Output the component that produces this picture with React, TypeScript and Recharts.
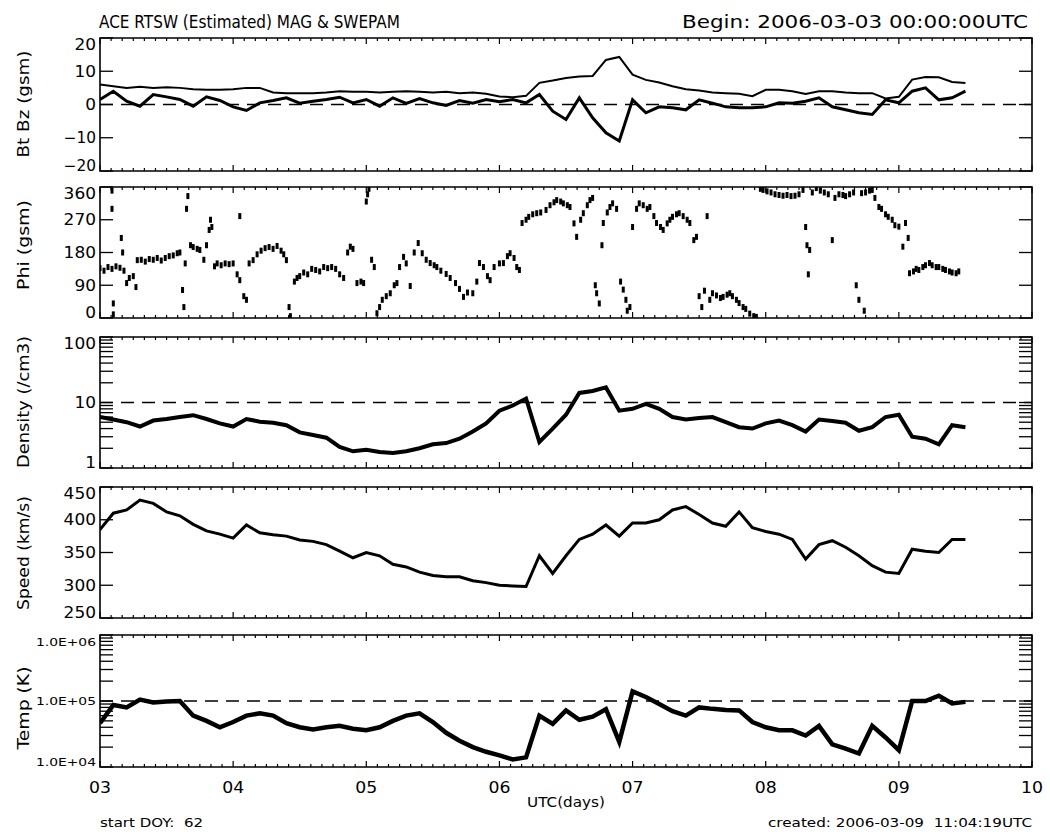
import React from "react";
import {
  ComposedChart,
  Line,
  Scatter,
  XAxis,
  YAxis,
  ReferenceLine,
  ReferenceArea,
} from "recharts";

const W = 1050;
const PLOT_LEFT = 100;
const PLOT_RIGHT = 1032;
const FONT = "'DejaVu Sans', 'Liberation Sans', sans-serif";

// sample times, days of March 2006 (UTC)
const days = [
  3.0, 3.1, 3.2, 3.3, 3.4, 3.5, 3.6, 3.7, 3.8, 3.9,
  4.0, 4.1, 4.2, 4.3, 4.4, 4.5, 4.6, 4.7, 4.8, 4.9,
  5.0, 5.1, 5.2, 5.3, 5.4, 5.5, 5.6, 5.7, 5.8, 5.9,
  6.0, 6.1, 6.2, 6.3, 6.4, 6.5, 6.6, 6.7, 6.8, 6.9,
  7.0, 7.1, 7.2, 7.3, 7.4, 7.5, 7.6, 7.7, 7.8, 7.9,
  8.0, 8.1, 8.2, 8.3, 8.4, 8.5, 8.6, 8.7, 8.8, 8.9,
  9.0, 9.1, 9.2, 9.3, 9.4, 9.5,
];

// nT
const bt = [
  6, 5.5, 5, 5.3, 5, 5.2, 5, 4.6, 4.4, 4.4,
  4.6, 5, 5, 3.6, 3.4, 3.4, 3.4, 3.6, 4, 3.8,
  3.8, 3.6, 3.8, 4, 3.8, 3.6, 3.8, 3.4, 3.6, 3.2,
  2.4, 2.2, 2.6, 6.5, 7.2, 8, 8.4, 8.6, 13.4, 14.3,
  9, 7.4, 6.6, 5.5, 4.6, 4.2, 3.6, 3.4, 3.2, 2.5,
  4.4, 4.4, 4, 3.2, 4, 4, 3.6, 3.4, 3.4, 1.8,
  2.3, 7.5, 8.3, 8.2, 6.8, 6.5,
];
const bz = [
  1.5, 4, 1, -0.5, 3, 2.3, 1.5, -0.5, 2.3, 1.2,
  -0.7, -1.8, 0.5, 1.2, 2, 0.4, 1, 1.5, 2.2, 0.5,
  1.5, -0.5, 2, 0.3, 1.8, 0.5, -0.3, 1.2, 0.4, 1.5,
  0.8, 1.5, 0.5, 3, -2, -4.5, 2, -4, -8.5, -11,
  1.4, -2.5, -0.7, -1, -1.6, 1.4, 0.4, -0.7, -1, -1,
  -0.7, 0.5, 0.4, 1, 2, -0.7, -1.6, -2.5, -3, 1.4,
  0.5, 4, 5, 1.4, 2, 4,
];
// /cm3
const density = [
  6.0, 5.5, 5.0, 4.3, 5.3, 5.6, 6.0, 6.4, 5.6, 4.8,
  4.3, 5.6, 5.1, 4.9, 4.5, 3.5, 3.2, 2.9, 2.1, 1.8,
  1.9, 1.75, 1.7, 1.8, 2.0, 2.3, 2.4, 2.8, 3.6, 4.8,
  7.5, 9.0, 11.5, 2.5, 4.0, 6.5, 14, 15, 17, 7.5,
  8.0, 9.5, 8.0, 6.0, 5.5, 5.8, 6.0, 5.0, 4.2, 4.0,
  4.8, 5.3, 4.5, 3.6, 5.5, 5.2, 4.9, 3.7, 4.2, 6.0,
  6.5, 3.0, 2.8, 2.3, 4.5, 4.2,
];
// km/s
const speed = [
  385, 410, 415, 430, 425, 412, 406, 393, 383, 378,
  372, 392, 380, 377, 375, 369, 367, 362, 352, 342,
  350, 345, 332, 328, 320, 315, 313, 313, 307, 304,
  300, 299, 298, 345, 318, 345, 370, 378, 392, 375,
  395, 395, 400, 415, 420, 408, 395, 390, 412, 388,
  382, 378, 370, 340, 362, 368, 358, 345, 330, 320,
  318, 355, 352, 350, 370, 370,
];
// K
const temp = [
  46000, 87000, 80000, 105000, 95000, 98000, 100000, 60000, 50000, 40000,
  48000, 60000, 65000, 60000, 46000, 40000, 37000, 40000, 42000, 38000,
  36000, 40000, 50000, 60000, 65000, 48000, 33000, 25000, 20000, 17000,
  15000, 13000, 14000, 60000, 45000, 72000, 52000, 58000, 75000, 24000,
  140000, 115000, 90000, 70000, 60000, 80000, 76000, 73000, 72000, 48000,
  40000, 36000, 36000, 30000, 42000, 22000, 19000, 16000, 42000, 28000,
  18000, 100000, 100000, 120000, 92000, 97000,
];

// [day, phi degrees]
const phiPoints: [number, number][] = [
  [3.0, 137], [3.03, 130], [3.06, 140], [3.09, 135], [3.09, 350], [3.09, 300], [3.1, 40], [3.1, 10],
  [3.12, 142], [3.15, 138], [3.16, 220], [3.17, 180], [3.18, 130], [3.2, 96], [3.22, 110], [3.25, 115],
  [3.27, 85], [3.28, 159], [3.31, 160], [3.34, 155], [3.37, 162], [3.4, 160], [3.43, 165], [3.46, 158],
  [3.49, 165], [3.52, 170], [3.55, 172], [3.58, 178], [3.6, 180], [3.62, 77], [3.63, 30], [3.64, 150],
  [3.65, 300], [3.66, 335], [3.68, 200], [3.7, 195], [3.73, 190], [3.75, 187], [3.78, 160], [3.8, 200],
  [3.82, 242], [3.83, 270], [3.84, 250], [3.86, 142], [3.88, 150], [3.91, 145], [3.94, 150], [3.97, 148],
  [4.0, 150], [4.03, 120], [4.05, 104], [4.05, 280], [4.08, 60], [4.1, 50], [4.12, 150], [4.15, 159],
  [4.18, 175], [4.21, 185], [4.24, 192], [4.27, 195], [4.3, 190], [4.33, 198], [4.36, 185], [4.38, 175],
  [4.4, 159], [4.42, 30], [4.43, 5], [4.46, 100], [4.48, 110], [4.5, 115], [4.53, 125], [4.56, 120],
  [4.59, 135], [4.62, 132], [4.65, 128], [4.68, 140], [4.71, 137], [4.74, 140], [4.77, 135], [4.8, 120],
  [4.83, 110], [4.86, 180], [4.88, 196], [4.9, 190], [4.93, 96], [4.96, 100], [4.98, 96], [5.0, 320],
  [5.01, 340], [5.02, 355], [5.04, 160], [5.06, 140], [5.08, 13], [5.1, 30], [5.12, 50], [5.15, 60],
  [5.18, 68], [5.21, 90], [5.23, 96], [5.25, 140], [5.28, 168], [5.3, 150], [5.33, 88], [5.36, 180],
  [5.39, 206], [5.42, 178], [5.45, 160], [5.48, 151], [5.51, 145], [5.53, 140], [5.56, 130], [5.6, 121],
  [5.63, 110], [5.67, 96], [5.7, 80], [5.73, 58], [5.76, 70], [5.8, 68], [5.83, 100], [5.85, 151],
  [5.88, 140], [5.91, 115], [5.93, 104], [5.96, 140], [6.0, 150], [6.03, 151], [6.06, 170], [6.08, 178],
  [6.11, 165], [6.13, 140], [6.15, 132], [6.17, 261], [6.2, 270], [6.22, 278], [6.25, 285], [6.28, 288],
  [6.31, 290], [6.35, 297], [6.38, 310], [6.41, 318], [6.43, 324], [6.46, 320], [6.48, 315], [6.51, 310],
  [6.53, 305], [6.56, 260], [6.58, 223], [6.61, 270], [6.63, 288], [6.66, 310], [6.68, 324], [6.7, 330],
  [6.72, 90], [6.73, 68], [6.75, 40], [6.77, 200], [6.78, 261], [6.81, 290], [6.83, 305], [6.85, 315],
  [6.88, 300], [6.91, 100], [6.93, 78], [6.95, 50], [6.96, 20], [6.98, 30], [7.0, 250], [7.03, 300],
  [7.05, 315], [7.08, 310], [7.11, 300], [7.13, 305], [7.16, 280], [7.18, 261], [7.21, 250], [7.23, 242],
  [7.26, 260], [7.28, 270], [7.3, 278], [7.33, 285], [7.35, 288], [7.38, 280], [7.41, 270], [7.43, 261],
  [7.46, 214], [7.48, 223], [7.5, 60], [7.52, 30], [7.54, 75], [7.56, 280], [7.58, 50], [7.6, 68],
  [7.63, 62], [7.66, 55], [7.68, 58], [7.71, 64], [7.73, 68], [7.75, 60], [7.78, 50], [7.8, 41],
  [7.83, 30], [7.85, 25], [7.88, 12], [7.91, 5], [7.93, 3], [7.96, 355], [7.98, 352], [8.01, 348],
  [8.04, 345], [8.07, 340], [8.1, 338], [8.13, 336], [8.16, 338], [8.19, 335], [8.22, 336], [8.25, 340],
  [8.28, 352], [8.3, 250], [8.31, 200], [8.32, 120], [8.33, 187], [8.35, 345], [8.38, 357], [8.41, 350],
  [8.44, 345], [8.47, 340], [8.5, 214], [8.52, 330], [8.55, 340], [8.58, 338], [8.6, 335], [8.63, 340],
  [8.66, 345], [8.68, 90], [8.7, 50], [8.72, 343], [8.74, 20], [8.75, 345], [8.78, 350], [8.8, 352],
  [8.82, 330], [8.85, 305], [8.87, 300], [8.9, 285], [8.92, 278], [8.95, 270], [8.97, 255], [9.0, 251],
  [9.03, 196], [9.05, 261], [9.07, 220], [9.08, 123], [9.11, 128], [9.13, 135], [9.15, 132], [9.18, 140],
  [9.2, 145], [9.23, 151], [9.25, 145], [9.28, 140], [9.3, 140], [9.33, 135], [9.35, 132], [9.38, 128],
  [9.4, 125], [9.43, 123], [9.45, 128],
];

const dayTicks = [3, 4, 5, 6, 7, 8, 9, 10];
const dayLabels = ["03", "04", "05", "06", "07", "08", "09", "10"];
// tick marks every 2 hours along the time axis
const hourTicks = Array.from({ length: 85 }, (_, i) => 3 + i / 12);

const logTicks = (lo: number, hi: number) => {
  const out: number[] = [];
  for (let d = lo; d < hi; d *= 10) for (let m = 1; m < 10; m++) out.push(d * m);
  out.push(hi);
  return out;
};

const table = days.map((t, i) => ({
  t,
  bt: bt[i],
  bz: bz[i],
  density: density[i],
  speed: speed[i],
  temp: temp[i],
}));
const phiData = phiPoints.map(([t, phi]) => ({ t, phi }));

type PanelProps = {
  top: number;
  height: number;
  domain: [number, number];
  scale?: "linear" | "log";
  ticks: number[];
  labelTicks: number[];
  labels: string[];
  labelFont?: number;
  labelWidth?: (s: string) => number;
  dashed?: number;
  showDays?: boolean;
  children?: React.ReactNode;
};

function Panel({
  top,
  height,
  domain,
  scale = "linear",
  ticks,
  labelTicks,
  labels,
  labelFont = 15,
  labelWidth = (s) => s.length * 10.8,
  dashed,
  showDays = false,
  children,
}: PanelProps) {
  const mt = 4;
  const mb = showDays ? 40 : 4;
  const axisH = 1;
  const yTop = mt;
  const yBot = mt + height;

  const renderYTick = (p: any) => {
    const v = p.payload.value;
    const y = p.y;
    const k = labelTicks.findIndex((l) => Math.abs(l - v) <= 1e-6 * Math.abs(l));
    const lab = k >= 0 ? labels[k] : null;
    const ly = Math.min(Math.max(y, yTop + 7), yBot - 5);
    return (
      <g>
        <line x1={PLOT_LEFT} x2={PLOT_LEFT + 13} y1={y} y2={y} stroke="#000" strokeWidth={1.3} />
        <line x1={PLOT_RIGHT - 13} x2={PLOT_RIGHT} y1={y} y2={y} stroke="#000" strokeWidth={1.3} />
        {lab && (
          <text
            x={PLOT_LEFT - 4}
            y={ly + labelFont * 0.36}
            textAnchor="end"
            fontSize={labelFont}
            fontFamily={FONT}
            textLength={labelWidth(lab)}
            lengthAdjust="spacingAndGlyphs"
            fill="#000"
          >
            {lab}
          </text>
        )}
      </g>
    );
  };

  const renderXTick = (p: any) => {
    const v = p.payload.value;
    const x = p.x;
    const major = Math.abs(v - Math.round(v)) < 1e-6;
    const len = major ? 6 : 3;
    const k = dayTicks.indexOf(Math.round(v));
    return (
      <g>
        <line x1={x} x2={x} y1={yBot} y2={yBot - len} stroke="#000" strokeWidth={1.2} />
        <line x1={x} x2={x} y1={yTop} y2={yTop + len} stroke="#000" strokeWidth={1.2} />
        {showDays && major && k >= 0 && (
          <text
            x={x}
            y={yBot + 26}
            textAnchor="middle"
            fontSize={15}
            fontFamily={FONT}
            textLength={22}
            lengthAdjust="spacingAndGlyphs"
            fill="#000"
          >
            {dayLabels[k]}
          </text>
        )}
      </g>
    );
  };

  return (
    <div style={{ position: "absolute", left: 0, top: top - mt }}>
      <ComposedChart
        width={W}
        height={height + mt + mb}
        data={table}
        margin={{ top: mt, right: W - PLOT_RIGHT, bottom: mb - axisH, left: 0 }}
      >
        <XAxis
          dataKey="t"
          type="number"
          domain={[3, 10]}
          ticks={hourTicks}
          interval={0}
          tick={renderXTick}
          height={axisH}
          tickSize={0}
          axisLine={false}
          tickLine={false}
          allowDataOverflow
        />
        <YAxis
          type="number"
          scale={scale}
          domain={domain}
          ticks={ticks}
          interval={0}
          tick={renderYTick}
          width={PLOT_LEFT}
          axisLine={false}
          tickLine={false}
          allowDataOverflow
        />
        <ReferenceArea
          x1={3}
          x2={10}
          y1={domain[0]}
          y2={domain[1]}
          fill="none"
          fillOpacity={0}
          stroke="#000"
          strokeWidth={1.6}
        />
        {dashed !== undefined && (
          <ReferenceLine y={dashed} stroke="#000" strokeWidth={1.6} strokeDasharray="13 8" />
        )}
        {children}
      </ComposedChart>
    </div>
  );
}

const phiShape = (p: any) => (
  <rect x={p.cx - 1.5} y={p.cy - 3} width={3} height={6} fill="#000" />
);

const yTitles = [
  { text: "Bt  Bz  (gsm)", cy: 104, len: 107 },
  { text: "Phi  (gsm)", cy: 245, len: 90 },
  { text: "Density  (/cm3)", cy: 402, len: 132 },
  { text: "Speed  (km/s)", cy: 553, len: 114 },
  { text: "Temp  (K)", cy: 708, len: 83 },
];

export default function App() {
  return (
    <div style={{ position: "absolute", left: 0, top: 0, width: W, height: 835, background: "#fff" }}>
      <Panel
        top={38}
        height={133}
        domain={[-20, 20]}
        ticks={[-20, -10, 0, 10, 20]}
        labelTicks={[-20, -10, 0, 10, 20]}
        labels={["\u221220", "\u221210", "0", "10", "20"]}
        dashed={0}
      >
        <Line dataKey="bt" type="linear" stroke="#000" strokeWidth={2} dot={false} isAnimationActive={false} />
        <Line dataKey="bz" type="linear" stroke="#000" strokeWidth={3} dot={false} isAnimationActive={false} />
      </Panel>
      <Panel
        top={187}
        height={131}
        domain={[0, 360]}
        ticks={[0, 90, 180, 270, 360]}
        labelTicks={[0, 90, 180, 270, 360]}
        labels={["0", "90", "180", "270", "360"]}
      >
        <Scatter data={phiData} dataKey="phi" shape={phiShape} isAnimationActive={false} />
      </Panel>
      <Panel
        top={337}
        height={131}
        domain={[1, 100]}
        scale="log"
        ticks={logTicks(1, 100)}
        labelTicks={[1, 10, 100]}
        labels={["1", "10", "100"]}
        dashed={10}
      >
        <Line dataKey="density" type="linear" stroke="#000" strokeWidth={4} dot={false} isAnimationActive={false} />
      </Panel>
      <Panel
        top={487}
        height={131}
        domain={[250, 450]}
        ticks={[250, 300, 350, 400, 450]}
        labelTicks={[250, 300, 350, 400, 450]}
        labels={["250", "300", "350", "400", "450"]}
      >
        <Line dataKey="speed" type="linear" stroke="#000" strokeWidth={3} dot={false} isAnimationActive={false} />
      </Panel>
      <Panel
        top={635}
        height={132}
        domain={[1e4, 1e6]}
        scale="log"
        ticks={logTicks(1e4, 1e6)}
        labelTicks={[1e4, 1e5, 1e6]}
        labels={["1.0E+04", "1.0E+05", "1.0E+06"]}
        labelFont={11}
        labelWidth={() => 60}
        dashed={1e5}
        showDays
      >
        <Line dataKey="temp" type="linear" stroke="#000" strokeWidth={4.5} dot={false} isAnimationActive={false} />
      </Panel>

      <svg
        width={W}
        height={835}
        style={{ position: "absolute", left: 0, top: 0, pointerEvents: "none" }}
        fontFamily={FONT}
      >
        <text x={99} y={28} fontSize={17} textLength={301} lengthAdjust="spacingAndGlyphs">
          ACE RTSW (Estimated) MAG &amp; SWEPAM
        </text>
        <text x={1028} y={28} fontSize={17} textAnchor="end" textLength={346} lengthAdjust="spacingAndGlyphs">
          Begin: 2006-03-03 00:00:00UTC
        </text>
        {yTitles.map((d) => (
          <text
            key={d.text}
            transform={`translate(29 ${d.cy}) rotate(-90)`}
            textAnchor="middle"
            fontSize={15}
            textLength={d.len}
            lengthAdjust="spacingAndGlyphs"
          >
            {d.text}
          </text>
        ))}
        <text x={566} y={807} fontSize={14} textAnchor="middle" textLength={78} lengthAdjust="spacingAndGlyphs">
          UTC(days)
        </text>
        <text x={100} y={827} fontSize={12} textLength={103} lengthAdjust="spacingAndGlyphs">
          {"start DOY:\u00a0 62"}
        </text>
        <text x={1032} y={827} fontSize={12} textAnchor="end" textLength={264} lengthAdjust="spacingAndGlyphs">
          {"created: 2006-03-09\u00a0 11:04:19UTC"}
        </text>
      </svg>
    </div>
  );
}
